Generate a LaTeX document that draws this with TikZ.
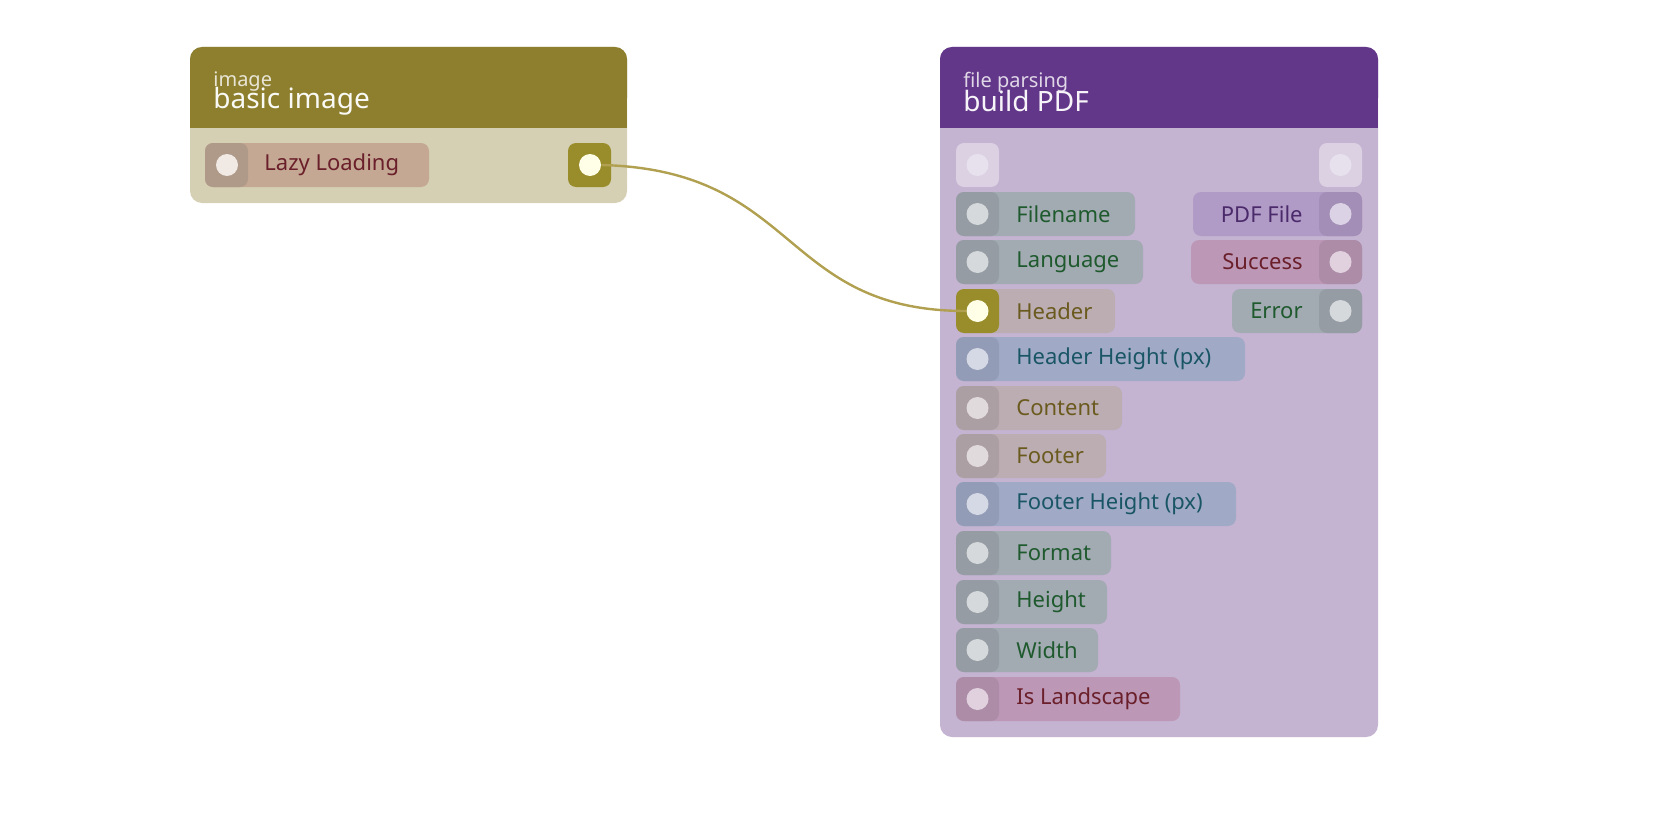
\documentclass[tikz,border=0pt]{standalone}
\usepackage{fontspec}
\setmainfont{Noto Sans}
\begin{document}
\definecolor{imghead}{HTML}{8E7F2F}
\definecolor{imgbody}{HTML}{D5D0B3}
\definecolor{pdfhead}{HTML}{623689}
\definecolor{pdfbody}{HTML}{C4B3D1}
\definecolor{pgray}{HTML}{A2AAB2}\definecolor{tgray}{HTML}{1F5A2E}
\definecolor{pbrown}{HTML}{BBADB2}\definecolor{tbrown}{HTML}{6B5A1E}
\definecolor{pblue}{HTML}{A0AAC6}\definecolor{tblue}{HTML}{1A5566}
\definecolor{ppink}{HTML}{BC98B6}\definecolor{tpink}{HTML}{6A1F2A}
\definecolor{ppurp}{HTML}{B09AC6}\definecolor{tpurp}{HTML}{4A2A6A}
\definecolor{plazy}{HTML}{C4A893}
\definecolor{wire}{HTML}{B0A050}
\begin{tikzpicture}[x=0.5pt,y=-0.5pt,
  lbl/.style={font=\fontsize{11}{13}\selectfont,anchor=west,inner sep=0},
  sq/.style={rounded corners=4pt},
  dot/.style={circle,inner sep=0,minimum size=11pt}]
\useasboundingbox (0,0) rectangle (1680,840);
% left node
\fill[imgbody,rounded corners=6pt] (190,47) rectangle (627,203);
\fill[imghead,rounded corners=6pt] (190,47) rectangle (627,110);
\fill[imghead] (190,90) rectangle (627,128);
\node[font=\fontsize{10}{12}\selectfont,text=white!80!imghead,anchor=west,inner sep=0] (imgsub) at (213,82) {image};
\node[font=\fontsize{14}{16}\selectfont,text=white!95!imghead,anchor=west,inner sep=0] (imgtitle) at (213,101) {basic image};
\fill[plazy,sq] (205,143) rectangle (429,187);
\fill[plazy!85!black!90,sq] (205,143) rectangle (248,187);
\node[dot,fill=white!75!plazy] (lazyin) at (227,165) {};
\node[lbl,text=tpink] (lazy) at (264,165) {Lazy Loading};
\fill[imghead!90!yellow,sq] (568,143) rectangle (611,187);
\node[dot,fill=white!90!yellow] (imgout) at (590,165) {};
% right node
\fill[pdfbody,rounded corners=6pt] (940,47) rectangle (1378,737);
\fill[pdfhead,rounded corners=6pt] (940,47) rectangle (1378,110);
\fill[pdfhead] (940,90) rectangle (1378,128);
\node[font=\fontsize{10}{12}\selectfont,text=white!80!pdfhead,anchor=west,inner sep=0] (pdfsub) at (963,82) {file parsing};
\node[font=\fontsize{14}{16}\selectfont,text=white!95!pdfhead,anchor=west,inner sep=0] (pdftitle) at (963,101) {build PDF};
% top exec ports
\fill[white!40!pdfbody,sq] (956,143) rectangle (999,187);
\node[dot,fill=white!60!pdfbody] (execin) at (977.5,165) {};
\fill[white!40!pdfbody,sq] (1319,143) rectangle (1362,187);
\node[dot,fill=white!60!pdfbody] (execout) at (1340.5,165) {};
% left inputs
\foreach \y/\xe/\pc/\tc/\t/\n in {
  214/1135/pgray/tgray/Filename/fn,
  262/1143/pgray/tgray/Language/lang,
  359/1245/pblue/tblue/Header Height (px)/hh,
  408/1122/pbrown/tbrown/Content/cont,
  456/1106/pbrown/tbrown/Footer/foot,
  504/1236/pblue/tblue/Footer Height (px)/fh,
  553/1111/pgray/tgray/Format/fmt,
  602/1107/pgray/tgray/Height/hgt,
  650/1098/pgray/tgray/Width/wid,
  699/1180/ppink/tpink/Is Landscape/land}{
  \fill[\pc,sq] (956,\y-22) rectangle (\xe,\y+22);
  \fill[\pc!92!black,sq] (956,\y-22) rectangle (999,\y+22);
  \node[dot,fill=white!55!\pc] (\n-in) at (977.5,\y) {};
  \node[lbl,text=\tc] (\n) at (1016,\y) {\t};
}
% header (connected)
\fill[pbrown,sq] (956,289) rectangle (1115,333);
\fill[imghead!90!yellow,sq] (956,289) rectangle (999,333);
\node[dot,fill=white!90!yellow] (hdr-in) at (977.5,311) {};
\node[lbl,text=tbrown] (hdr) at (1016,311) {Header};
% right outputs
\foreach \y/\xs/\pc/\tc/\t/\n in {
  214/1193/ppurp/tpurp/PDF File/pdf,
  262/1191/ppink/tpink/Success/succ,
  311/1232/pgray/tgray/Error/err}{
  \fill[\pc,sq] (\xs,\y-22) rectangle (1362,\y+22);
  \fill[\pc!92!black,sq] (1319,\y-22) rectangle (1362,\y+22);
  \node[dot,fill=white!55!\pc] (\n-out) at (1340.5,\y) {};
  \node[lbl,anchor=east,text=\tc] (\n) at (1303,\y) {\t};
}
% wire
\draw[wire,line width=1.2pt] (imgout.east) .. controls (800,170) and (780,311) .. (hdr-in.west);
\end{tikzpicture}
\end{document}
